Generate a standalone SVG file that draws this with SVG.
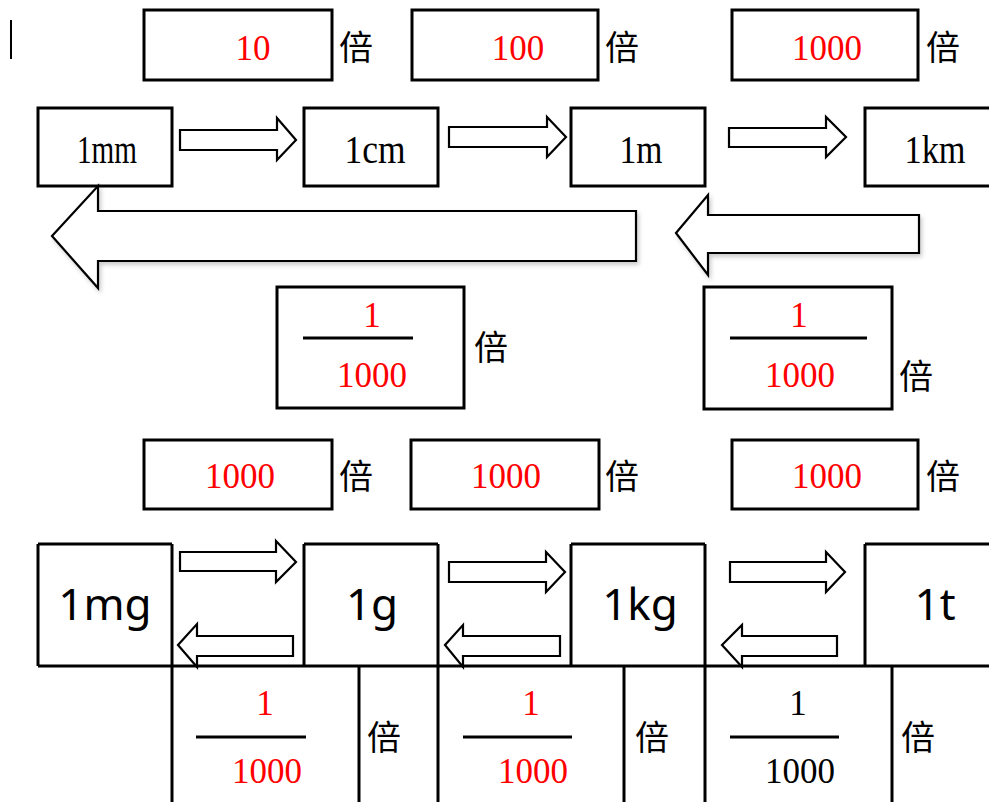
<svg xmlns="http://www.w3.org/2000/svg" width="989" height="802" viewBox="0 0 989 802">
<style>
.box{fill:#fff;stroke:#000;stroke-width:3}
.ln{stroke:#000;stroke-width:3;fill:none}
.arr{fill:#fff;stroke:#000;stroke-width:2.2;stroke-linejoin:miter}
.red{fill:#ff0000;font-family:"Liberation Serif",serif;font-size:35px;text-anchor:middle}
.blk{fill:#000;font-family:"Liberation Serif",serif;font-size:35px;text-anchor:middle}
.unit{fill:#000;font-family:"Liberation Serif",serif;font-size:40px;text-anchor:middle}
.sans{fill:#000;font-family:"Noto Sans","Open Sans",sans-serif;font-size:44px;text-anchor:middle}
.bei{fill:#000;font-family:"Noto Sans CJK SC","Noto Sans CJK JP",sans-serif;font-size:34px}
</style>
<defs>
<filter id="sh" x="-5%" y="-20%" width="110%" height="150%">
<feDropShadow dx="2" dy="3" stdDeviation="2" flood-color="#000" flood-opacity="0.2"/>
</filter>
</defs>
<rect width="989" height="802" fill="#fff"/>
<line x1="11" y1="20" x2="11" y2="59" stroke="#000" stroke-width="2"/>

<!-- top multiplier boxes -->
<g id="m10"><rect class="box" x="144" y="10" width="188" height="70"/><text class="red" x="253" y="60">10</text></g>
<text class="bei" x="339" y="60">倍</text>
<g id="m100"><rect class="box" x="412" y="10" width="186" height="70"/><text class="red" x="518" y="60">100</text></g>
<text class="bei" x="605" y="60">倍</text>
<g id="m1000a"><rect class="box" x="732" y="10" width="186" height="70"/><text class="red" x="827" y="60">1000</text></g>
<text class="bei" x="926" y="60">倍</text>

<!-- length unit boxes -->
<g id="mm"><rect class="box" x="38" y="108" width="134" height="78"/><text class="unit" x="107" y="163" textLength="60" lengthAdjust="spacingAndGlyphs">1mm</text></g>
<g id="cm"><rect class="box" x="304" y="108" width="134" height="78"/><text class="unit" x="375" y="163" textLength="61" lengthAdjust="spacingAndGlyphs">1cm</text></g>
<g id="m"><rect class="box" x="571" y="108" width="134" height="78"/><text class="unit" x="641" y="163" textLength="43" lengthAdjust="spacingAndGlyphs">1m</text></g>
<g id="km"><rect class="box" x="865" y="108" width="140" height="78"/><text class="unit" x="935" y="163" textLength="61" lengthAdjust="spacingAndGlyphs">1km</text></g>

<!-- fraction boxes -->
<g id="f1"><rect class="box" x="277" y="287" width="187" height="121"/>
<line class="ln" x1="303" y1="338" x2="413" y2="338"/>
<text class="red" x="372" y="327">1</text><text class="red" x="372" y="387">1000</text></g>
<text class="bei" x="474" y="360">倍</text>
<g id="f2"><rect class="box" x="704" y="287" width="188" height="122"/>
<line class="ln" x1="730" y1="338" x2="867" y2="338"/>
<text class="red" x="799" y="327">1</text><text class="red" x="800" y="387">1000</text></g>
<text class="bei" x="899" y="389">倍</text>

<!-- mass multiplier boxes -->
<g id="g1000a"><rect class="box" x="144" y="440" width="188" height="69"/><text class="red" x="240" y="488">1000</text></g>
<text class="bei" x="339" y="489">倍</text>
<g id="g1000b"><rect class="box" x="411" y="440" width="188" height="69"/><text class="red" x="506" y="488">1000</text></g>
<text class="bei" x="605" y="489">倍</text>
<g id="g1000c"><rect class="box" x="732" y="440" width="186" height="69"/><text class="red" x="827" y="488">1000</text></g>
<text class="bei" x="926" y="489">倍</text>

<!-- mass table -->
<g id="table">
<path class="ln" d="M38 544H172M304 544H438M571 544H705M865 544H989M38 666H989"/>
<path class="ln" d="M38 544V666M304 544V666M571 544V666M865 544V666M172 544V802M438 544V802M705 544V802M359 666V802M624 666V802M892 666V802"/>
</g>
<g id="mg"><text class="sans" x="105" y="620">1mg</text></g>
<g id="g"><text class="sans" x="372" y="620">1g</text></g>
<g id="kg"><text class="sans" x="640" y="620">1kg</text></g>
<g id="t"><text class="sans" x="935" y="620">1t</text></g>

<g id="bf1"><line class="ln" x1="196" y1="737" x2="306" y2="737"/><text class="red" x="265" y="715">1</text><text class="red" x="267" y="783">1000</text></g>
<text class="bei" x="367" y="750">倍</text>
<g id="bf2"><line class="ln" x1="463" y1="737" x2="572" y2="737"/><text class="red" x="531" y="715">1</text><text class="red" x="533" y="783">1000</text></g>
<text class="bei" x="635" y="750">倍</text>
<g id="bf3"><line class="ln" x1="730" y1="737" x2="839" y2="737"/><text class="blk" x="798" y="715">1</text><text class="blk" x="800" y="783">1000</text></g>
<text class="bei" x="901" y="750">倍</text>

<!-- connectors -->
<g id="connectors">
<polygon class="arr" points="180,130 277,130 277,118 296,140 277,160 277,150 180,150"/>
<polygon class="arr" points="449,127 547,127 547,117 566,137 547,157 547,147 449,147"/>
<polygon class="arr" points="729,128 826,128 826,117 846,137 826,157 826,147 729,147"/>
<polygon class="arr" filter="url(#sh)" points="52,236 98,186 98,211 636,211 636,261 98,261 98,288"/>
<polygon class="arr" filter="url(#sh)" points="676,233 708,195 708,215 919,215 919,253 708,253 708,275"/>
<polygon class="arr" points="180,552 276,552 276,541 296,562 276,582 276,571 180,571"/>
<polygon class="arr" points="449,562 546,562 546,552 565,572 546,592 546,582 449,582"/>
<polygon class="arr" points="730,562 826,562 826,552 845,572 826,592 826,582 730,582"/>
<polygon class="arr" points="178,645 197,624 197,636 293,636 293,656 197,656 197,667"/>
<polygon class="arr" points="445,645 463,625 463,636 560,636 560,656 463,656 463,667"/>
<polygon class="arr" points="722,645 742,625 742,636 837,636 837,656 742,656 742,667"/>
</g>
</svg>
